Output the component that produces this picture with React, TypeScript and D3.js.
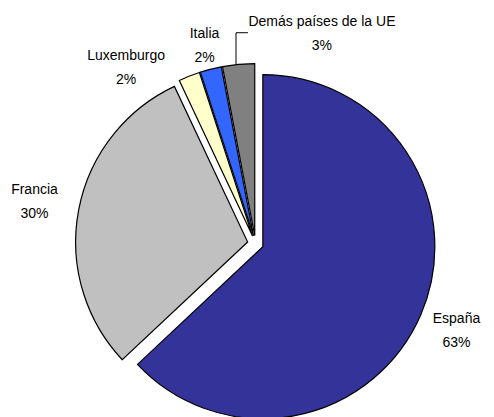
import React from "react";
import * as d3 from "d3";

const categories = ["España", "Francia", "Luxemburgo", "Italia", "Demás países de la UE"];
const values = [63, 30, 2, 2, 3];
const percentLabels = ["63%", "30%", "2%", "2%", "3%"];
const colors = ["#333399", "#C0C0C0", "#FFFFCC", "#3366FF", "#808080"];

// layout (label placement: angle override in degrees or null, distance from center)
const labelAngles: (number | null)[] = [null, null, 323.8, null, 17.5];
const labelRadii = [219, 225, 219, 205, 221];

const W = 494;
const H = 417;
const CX = 255.5;
const CY = 243.5;
const R = 172;
const EXPLODE = 8;
const FONT = 14;
const LINE = 24;

export default function App() {
  const pie = d3.pie<number>().sort(null).startAngle(0).endAngle(2 * Math.PI);
  const arcs = pie(values);
  const arcGen = d3.arc<d3.PieArcDatum<number>>().innerRadius(0).outerRadius(R);

  const polar = (a: number, r: number): [number, number] => [Math.sin(a) * r, -Math.cos(a) * r];

  // Demás leader line
  const demas = arcs[4];
  const demasMid = (demas.startAngle + demas.endAngle) / 2;
  const [dox, doy] = polar(demasMid, EXPLODE);
  const leaderX = CX - 19.5;
  const arcTopY = CY + doy - Math.sqrt(R * R - (leaderX - CX - dox) ** 2);
  const [lx4, ly4] = polar(((labelAngles[4] as number) * Math.PI) / 180, labelRadii[4]);
  const labelCenterY = CY + ly4;
  const labelLeft = CX + lx4 - 72;

  return (
    <svg
      width={W}
      height={H}
      style={{ position: "absolute", left: 0, top: 0, background: "#fff" }}
      fontFamily="Arial, 'Liberation Sans', sans-serif"
      fontSize={FONT}
    >
      <g>
        {arcs.map((a, i) => {
          const mid = (a.startAngle + a.endAngle) / 2;
          const [ox, oy] = polar(mid, EXPLODE);
          return (
            <path
              key={i}
              d={arcGen(a) || ""}
              transform={`translate(${CX + ox},${CY + oy})`}
              fill={colors[i]}
              stroke="#000"
              strokeWidth={1.2}
              strokeLinejoin="miter"
            />
          );
        })}
      </g>
      <polyline
        points={`${labelLeft - 2},${labelCenterY} ${leaderX},${labelCenterY} ${leaderX},${arcTopY}`}
        fill="none"
        stroke="#000"
        strokeWidth={1}
      />
      {arcs.map((a, i) => {
        const mid = (a.startAngle + a.endAngle) / 2;
        const ang = labelAngles[i] != null ? ((labelAngles[i] as number) * Math.PI) / 180 : mid;
        const [x, y] = polar(ang, labelRadii[i]);
        return (
          <text key={i} x={CX + x} y={CY + y} textAnchor="middle" fill="#000">
            <tspan x={CX + x} dy={-LINE / 2 + FONT * 0.35}>
              {categories[i]}
            </tspan>
            <tspan x={CX + x} dy={LINE}>
              {percentLabels[i]}
            </tspan>
          </text>
        );
      })}
    </svg>
  );
}
